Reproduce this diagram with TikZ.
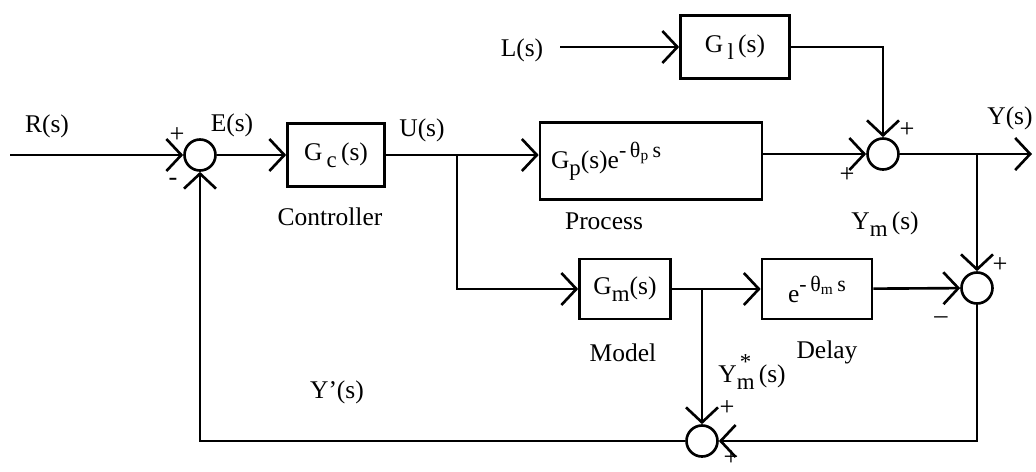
\documentclass[tikz,border=0pt]{standalone}
\usepackage{fontspec}
\setmainfont{Liberation Serif}
\usetikzlibrary{arrows.meta,positioning}
\newcommand{\dnsub}[1]{\raisebox{-0.6ex}{\fontsize{13}{15}\selectfont #1}}
\newcommand{\upsup}[1]{\raisebox{0.95ex}{\fontsize{12.5}{14}\selectfont #1}}
\tikzset{
  blk/.style={draw, line width=1.5pt, inner sep=2pt, align=center},
  summer/.style={draw, circle, line width=1.5pt, minimum size=6.2mm, inner sep=0pt},
  line/.style={-{Straight Barb[length=3mm,width=6.4mm]}, line width=1.5pt},
  lbl/.style={inner sep=0pt},
  sgn/.style={inner sep=0pt, font=\fontsize{15}{17}\selectfont}
}

\begin{document}
\begin{tikzpicture}[x=0.02cm, y=-0.02cm, font=\fontsize{14.5}{17}\selectfont]
  \useasboundingbox (0,0) rectangle (1036,471);

  % summing junctions
  \node[summer] (sum1) at (200,155) {};
  \node[summer] (sum2) at (883,154) {};
  \node[summer] (sum3) at (977,288) {};
  \node[summer] (sum4) at (702,441) {};

  % blocks
  \node[blk, minimum width=19.4mm, minimum height=12.6mm] (gc) at (336,155) {G\,\dnsub{c}\,(s)};
  \node[blk, minimum width=44.4mm, minimum height=15.4mm, text width=40mm, align=left] (gp) at (651,161)
    {G\dnsub{p}(s)e\upsup{-\,θ\textsubscript{p}\,s}};
  \node[blk, minimum width=21.8mm, minimum height=12.6mm] (gl) at (735,47) {G\,\dnsub{l}\,(s)};
  \node[blk, minimum width=18.2mm, minimum height=12mm] (gm) at (625,289) {G\dnsub{m}(s)};
  \node[blk, minimum width=22mm, minimum height=12mm] (delay) at (817,289)
    {e\upsup{-\,θ\textsubscript{m}\,s}};

  % captions
  \node[lbl, anchor=north] at (330,207) {Controller};
  \node[lbl, anchor=north] at (604,212) {Process};
  \node[lbl, anchor=north] at (623,343) {Model};
  \node[lbl, anchor=north] at (827,340) {Delay};

  % signal labels
  \node[lbl] at (47,126) {R(s)};
  \node[lbl] at (232,125) {E(s)};
  \node[lbl] at (422,130) {U(s)};
  \node[lbl] at (522,50) {L(s)};
  \node[lbl] at (1010,118) {Y(s)};
  \node[lbl] at (885,224) {Y\dnsub{m}\,(s)};
  \node[lbl] at (752,372) {Y\raisebox{-0.6ex}{\shortstack[c]{\fontsize{13}{13}\selectfont *\\[2pt]\fontsize{13}{13}\selectfont m}}\,(s)};
  \node[lbl] at (337,392) {Y'(s)};

  % signs
  \node[sgn] at (177,135) {+};
  \node[sgn] at (173,182) {-};
  \node[sgn] at (907,130) {+};
  \node[sgn] at (847,175) {+};
  \node[sgn] at (1000,265) {+};
  \node[sgn] at (941,320) {--};
  \node[sgn] at (727,408) {+};
  \node[sgn] at (731,458) {+};

  % free ends and branch points
  \coordinate (rin) at (10,155);
  \coordinate (lin) at (560,47);
  \coordinate (yout) at (1032,154);
  \coordinate (ubr) at (457,155);

  % connectors
  \draw[line] (rin) -- (sum1);
  \draw[line] (sum1) -- (gc);
  \draw[line] (gc.east) -- (gc.east -| gp.west);
  \draw[line] (ubr) |- (gm);
  \draw[line] (lin) -- (gl);
  \draw[line] (gl) -| (sum2);
  \draw[line] (gp.east |- sum2) -- (sum2);
  \draw[line] (sum2) -- (yout);
  \draw[line] (sum3 |- sum2) -- (sum3);
  \draw[line] (gm) -- (delay);
  \draw[line] (delay) -- (sum3);
  \draw[line] (sum4 |- gm) -- (sum4);
  \draw[line] (sum3) |- (sum4);
  \draw[line] (sum4) -| (sum1);
\end{tikzpicture}
\end{document}
